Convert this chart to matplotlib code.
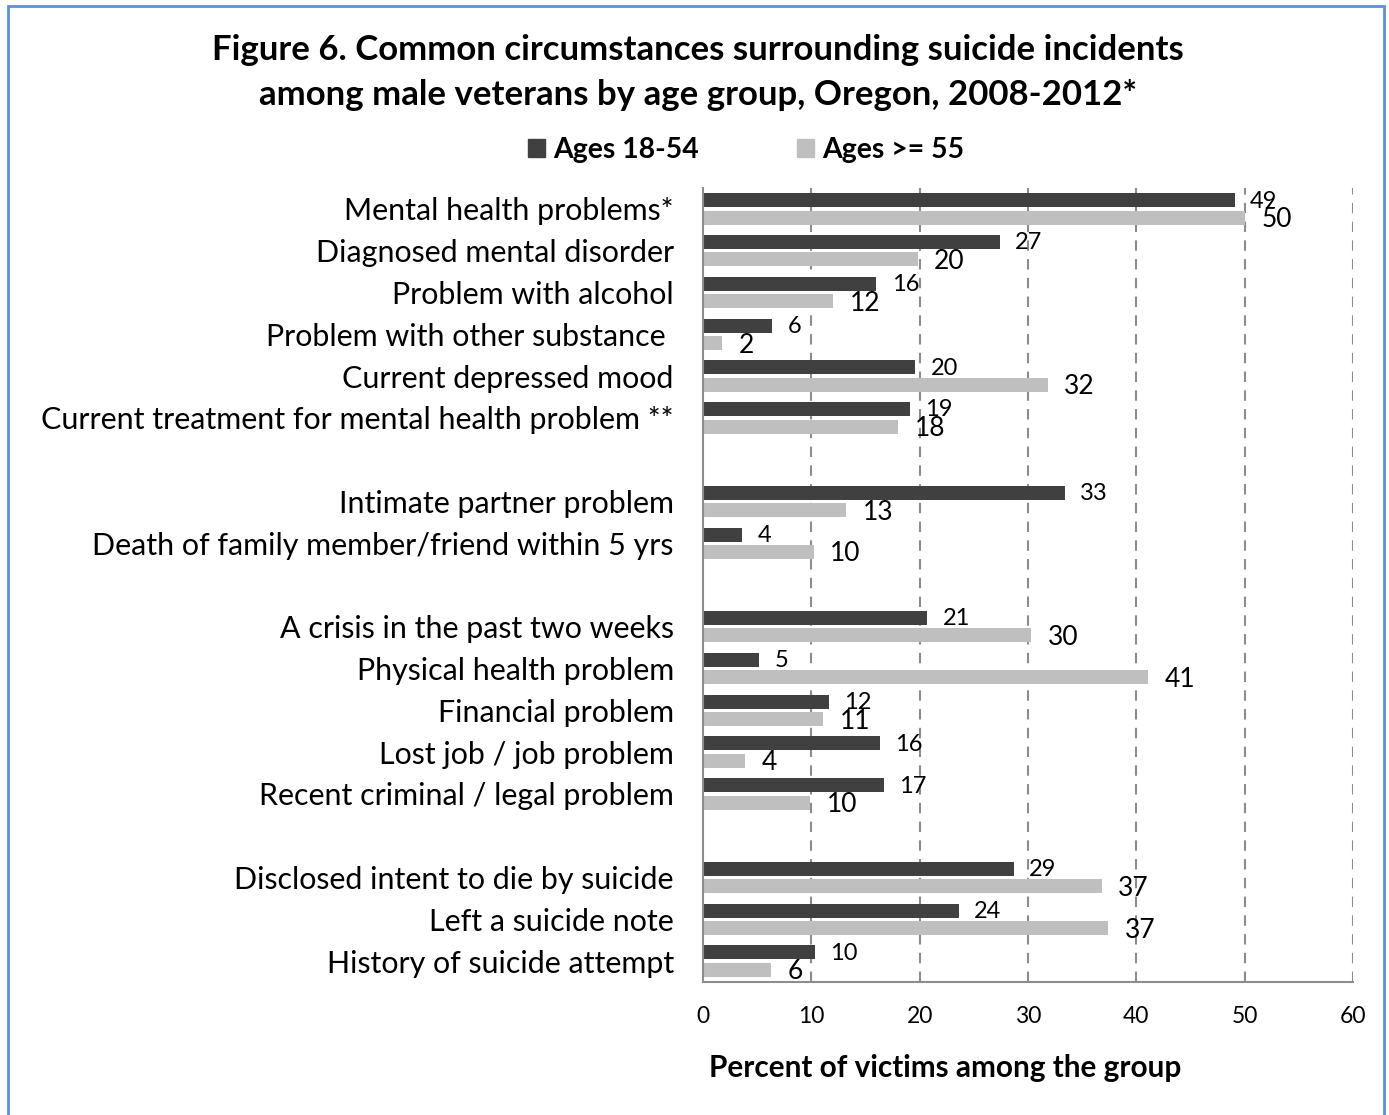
import numpy as np
import matplotlib
matplotlib.use('Agg')
import matplotlib.pyplot as plt
from matplotlib.patches import Patch, Rectangle

plt.rcParams['font.family'] = ['Lato', 'DejaVu Sans']

# data (blank entries = gaps between groups)
categories = ['Mental health problems*', 'Diagnosed mental disorder', 'Problem with alcohol',
              'Problem with other substance ', 'Current depressed mood',
              'Current treatment for mental health problem **', '',
              'Intimate partner problem', 'Death of family member/friend within 5 yrs', '',
              'A crisis in the past two weeks', 'Physical health problem', 'Financial problem',
              'Lost job / job problem', 'Recent criminal / legal problem', '',
              'Disclosed intent to die by suicide', 'Left a suicide note',
              'History of suicide attempt']
nan = np.nan
ages_18_54 = [49.1, 27.4, 16.0, 6.4, 19.6, 19.1, nan, 33.4, 3.6, nan,
              20.7, 5.2, 11.6, 16.3, 16.7, nan, 28.7, 23.6, 10.3]
ages_55_up = [50.0, 19.8, 12.0, 1.75, 31.8, 18.0, nan, 13.2, 10.2, nan,
              30.3, 41.1, 11.1, 3.9, 9.9, nan, 36.8, 37.4, 6.3]

dark = '#404040'
light = '#bfbfbf'

fig = plt.figure(figsize=(13.89, 11.15), dpi=100)
ax = fig.add_axes([703/1389, 1-982/1115, 650/1389, 794/1115])

y = np.arange(len(categories))
h = 0.335
off = 0.208
ax.barh(y - off, ages_18_54, height=h, color=dark, zorder=3)
ax.barh(y + off, ages_55_up, height=h, color=light, zorder=3)

# data labels (dark series smaller, as in the original)
for yi, v in zip(y, ages_18_54):
    if not np.isnan(v):
        ax.annotate(f'{v:.0f}', (v, yi - off + 0.02), xytext=(11, 0), textcoords='offset points',
                    ha='left', va='center', fontsize=17, zorder=4)
for yi, v in zip(y, ages_55_up):
    if not np.isnan(v):
        ax.annotate(f'{v:.0f}', (v, yi + off + 0.05), xytext=(12, 0), textcoords='offset points',
                    ha='left', va='center', fontsize=19, zorder=4)

ax.set_xlim(0, 60)
ax.set_ylim(len(categories) - 0.5, -0.5)
ax.set_xticks(range(0, 61, 10))
ax.set_yticks(y)
ax.set_yticklabels(categories, fontsize=21.9)
ax.tick_params(axis='y', length=0, pad=21)
ax.tick_params(axis='x', length=0, pad=17, labelsize=16.5)

for s in ['top', 'right']:
    ax.spines[s].set_visible(False)
for s in ['left', 'bottom']:
    ax.spines[s].set_color('#8c8c8c')
    ax.spines[s].set_linewidth(1.5)
    ax.spines[s].set_zorder(5)

for gx in range(10, 61, 10):
    ax.axvline(gx, color='#8c8c8c', lw=1.5, ls=(0, (5, 4)), zorder=1)

fig.text(0.5025, 1-50/1115, 'Figure 6. Common circumstances surrounding suicide incidents',
         ha='center', va='center', fontsize=25, fontweight='bold')
fig.text(0.5025, 1-95/1115, 'among male veterans by age group, Oregon, 2008-2012*',
         ha='center', va='center', fontsize=25, fontweight='bold')

handles = [Patch(color=dark, label='Ages 18-54'), Patch(color=light, label='Ages >= 55')]
fig.legend(handles=handles, loc='center', bbox_to_anchor=(746/1389, 1-150/1115), ncol=2,
           frameon=False, prop={'size': 20.4, 'weight': 'bold'}, handlelength=0.6,
           handleheight=0.6, handletextpad=0.3, columnspacing=3.45)

fig.text(945.5/1389, 1-1068/1115, 'Percent of victims among the group',
         ha='center', va='center', fontsize=21.4, fontweight='bold')

fig.patches.append(Rectangle((8/1389, -0.01), 1376/1389, 1.01 - 6/1115, transform=fig.transFigure,
                             fill=False, edgecolor='#5b8fdb', lw=2))

fig.savefig('out.png', dpi=100)
